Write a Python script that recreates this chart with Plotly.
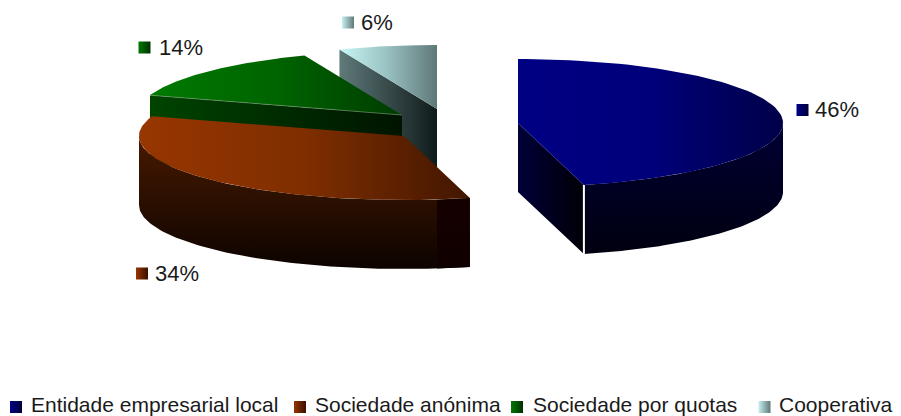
import numpy as np
import plotly.graph_objects as go

categories = ["Entidade empresarial local", "Sociedade anónima", "Sociedade por quotas", "Cooperativa"]
values = [46, 34, 14, 6]

RX, RY, DEPTH = 265, 64, 69
centres = [(518, 123), (404, 136), (402, 115), (437, 109)]
top_colors = [["#000084", "#00007a", "#000048"], ["#973600", "#7f2e00", "#421600"],
              ["#007a00", "#006400", "#003c00"], ["#c8f6f6", "#98c0c0", "#5f7878"]]
radial_colors = [["#000038", "#000006"], ["#200a00", "#100000"],
                 ["#004400", "#001400"], ["#607a7a", "#0f1a1a"]]
front_colors = [["#000010", "#000034"], ["#0c0300", "#481a00"], ["#000", "#000"], ["#000", "#000"]]
swatch_colors = [("#000088", "#000038"), ("#963600", "#3a1000"), ("#007800", "#003000"), ("#c8f0f0", "#5f7878")]
edge_lines = [(0, "#2a2a90"), (2, "#7a9a7a")]
legend_swatch_x = [16, 300, 517, 764.5]
legend_text_x = [31, 315, 533, 779]
label_swatch_xy = [(802.5, 110), (142, 273.5), (144.5, 47.5), (348, 22.5)]
label_text_xy = [(815, 111), (155, 275), (159, 49), (361, 24)]
LEGEND_Y = 407

edges = np.concatenate([[0], np.cumsum(values)]) / sum(values) * 360


def rim(cx, cy, a, b, n=90):
    t = np.radians(np.linspace(a, b, n))
    return cx + RX * np.sin(t), cy - RY * np.cos(t)


def poly(x, y, stops, kind="horizontal"):
    scale = [[i / (len(stops) - 1), c] for i, c in enumerate(stops)]
    return go.Scatter(x=list(x), y=list(y), mode="lines", fill="toself", line=dict(width=0),
                      fillgradient=dict(type=kind, colorscale=scale), hoverinfo="skip", showlegend=False)


fig = go.Figure()
# Painter's order: back slices first
for i in [3, 2, 1, 0]:
    cx, cy = centres[i]
    a, b = edges[i], edges[i + 1]
    rx, ry = rim(cx, cy, a, b)
    if i == 0:
        ex, ey = rx[-1], ry[-1]
    else:
        ex, ey = rx[0], ry[0]
    if i in (0, 2, 3):
        fig.add_trace(poly([cx, ex, ex, cx], [cy, ey, ey + DEPTH, cy + DEPTH], radial_colors[i]))
    la, lb = max(a, 90), min(b, 270)
    if lb > la:
        fx, fy = rim(cx, cy, la, lb)
        wx = np.concatenate([fx, fx[::-1]])
        wy = np.concatenate([fy, fy[::-1] + DEPTH])
        fig.add_trace(poly(wx, wy, front_colors[i], "vertical"))
        if i == 1:
            mask_x = np.clip(wx, 437, None)
            fig.add_trace(poly(mask_x, wy, ["#100000", "#1a0000"], "vertical"))
    fig.add_trace(poly(np.r_[cx, rx, cx], np.r_[cy, ry, cy], top_colors[i]))
    for j, col in edge_lines:
        if j == i:
            fig.add_trace(go.Scatter(x=[cx, ex], y=[cy, ey], mode="lines", hoverinfo="skip", showlegend=False,
                                     line=dict(color=col, width=0.6)))

# white gap line at the end of the largest slice
bx, by = rim(*centres[0], edges[1], edges[1], 1)
fig.add_trace(go.Scatter(x=[bx[0], bx[0]], y=[by[0], by[0] + DEPTH], mode="lines",
                         line=dict(color="white", width=2), hoverinfo="skip", showlegend=False))

legend_font = dict(family="Liberation Sans, Arial, sans-serif", size=21, color="#1a1a1a")
label_font = dict(family="Liberation Sans, Arial, sans-serif", size=22, color="#1a1a1a")
for i, cat in enumerate(categories):
    c1, c2 = swatch_colors[i]
    for sx, sy in [(legend_swatch_x[i], LEGEND_Y), label_swatch_xy[i]]:
        fig.add_trace(go.Scatter(x=[sx], y=[sy], mode="markers", hoverinfo="skip", showlegend=False,
                                 marker=dict(symbol="square", size=12, color=c1, line=dict(width=0),
                                             gradient=dict(type="horizontal", color=c2))))
    fig.add_trace(go.Scatter(x=[legend_text_x[i]], y=[LEGEND_Y], mode="text", text=[cat], textfont=legend_font,
                             textposition="middle right", hoverinfo="skip", showlegend=False))
    fig.add_trace(go.Scatter(x=[label_text_xy[i][0]], y=[label_text_xy[i][1]], mode="text",
                             text=[f"{values[i]}%"], textfont=label_font, textposition="middle right",
                             hoverinfo="skip", showlegend=False))

fig.update_layout(width=901, height=416, margin=dict(l=0, r=0, t=0, b=0), paper_bgcolor="white",
                  plot_bgcolor="white", showlegend=False,
                  xaxis=dict(range=[0, 901], visible=False, fixedrange=True),
                  yaxis=dict(range=[416, 0], visible=False, fixedrange=True))
fig.write_html("out.html", config={"displayModeBar": False},
               post_script="document.body.style.margin='0';document.body.style.overflow='hidden';")
